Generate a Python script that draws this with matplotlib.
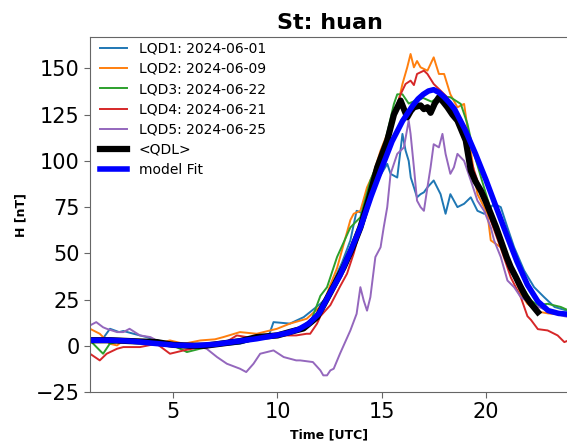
import matplotlib
matplotlib.use("Agg")
import matplotlib.pyplot as plt

# ---- data ----
t_lqd1 = [1.0, 1.5, 1.96, 2.4, 2.6, 3.06, 3.4, 3.72, 4.2, 5.0, 5.8, 6.5, 7.1, 8.2, 9.33, 9.6, 9.81,
          10.6, 11.26, 12.06, 12.54, 12.7, 13.1, 13.5, 13.8, 14.14, 14.5, 14.79, 15.27, 15.43, 15.75,
          16.0, 16.15, 16.3, 16.4, 16.55, 16.7, 16.87, 17.03, 17.2, 17.5, 17.83, 18.07, 18.3, 18.64,
          18.96, 19.28, 19.6, 19.92, 20.4, 20.72, 21.04, 21.36, 21.84, 22.32, 22.8, 23.3, 23.9, 24.0]
h_lqd1 = [3, 2, 9.2, 7.4, 8, 6.6, 5.6, 4.7, 2.9, 1.5, 0.5, 0, 0.2, 1.1, 4.7, 6, 12.8,
          12, 15.5, 22.7, 28, 35.3, 45, 57, 73, 71.4, 80, 89.4, 98.4, 93, 91,
          114.6, 105.6, 100, 91, 85.7, 80.3, 82, 83, 85.7, 89.4, 82, 71.4, 82, 75,
          76.8, 80.3, 73, 71.4, 76.8, 75, 64, 53.3, 40.7, 31.7, 26.3, 21, 19, 18.5]

t_lqd2 = [1.0, 1.47, 1.95, 2.3, 2.6, 3.2, 3.8, 4.2, 4.84, 5.5, 6.3, 7.0, 7.4, 8.2, 9.0, 9.98, 10.6,
          11.4, 12.2, 12.54, 12.86, 13.18, 13.5, 13.66, 13.98, 14.3, 14.6, 14.95, 15.27, 15.75, 16.0,
          16.23, 16.39, 16.55, 16.7, 16.87, 17.2, 17.5, 17.75, 18.0, 18.3, 18.64, 18.96, 19.12, 19.44,
          19.6, 20.08, 20.24, 20.72, 21.2, 21.68, 22.0, 22.5, 23.0, 23.5, 24.0]
h_lqd2 = [9.2, 6.5, 1.1, 0.2, 2.9, 2.0, 2.5, 1.1, 2.9, 1.1, 2.9, 3.5, 4.7, 7.4, 6.5, 9.2, 12,
          14.6, 22.7, 33, 42, 55, 68, 71.4, 73, 85.7, 93, 105.6, 114.6, 129, 141.6,
          150.6, 157.8, 150.6, 154, 150.6, 148.8, 156, 147, 147, 136, 129, 130.8, 118, 93,
          82, 71.4, 57, 53.3, 42.5, 28.1, 22.7, 18.5, 17.5, 17, 16.5]

t_lqd3 = [1.0, 1.47, 1.63, 1.95, 2.6, 3.5, 4.2, 5.0, 5.5, 5.65, 6.28, 7.0, 8.0, 9.0, 10.0, 11.0, 11.6,
          12.06, 12.38, 12.86, 13.5, 13.98, 14.46, 15.1, 15.59, 15.75, 16.0, 16.3, 16.7, 17.0, 17.4,
          17.8, 18.3, 18.8, 19.12, 19.44, 19.8, 20.2, 20.5, 20.9, 21.3, 21.68, 22.17, 22.5, 22.97,
          23.6, 24.0]
h_lqd3 = [2.9, -2.5, -4.3, 1.1, 2.9, 2, 1.5, 0, -2.5, -3.4, -1.6, 0, 1.5, 3.5, 5.5, 8, 13,
          27, 31.7, 48, 64, 69.5, 89.4, 107, 130.8, 136, 136, 131, 133, 134, 132,
          135, 134.4, 130.8, 120, 103.8, 90, 75, 64, 49.8, 41, 33.5, 24.5, 22, 22.7,
          21, 19]

t_lqd4 = [1.0, 1.47, 1.8, 2.3, 2.6, 3.4, 4.2, 4.84, 5.5, 6.3, 7.4, 8.05, 9.0, 9.98, 10.9, 11.4, 11.57,
          11.9, 12.06, 12.54, 13.0, 13.34, 13.66, 14.3, 14.95, 15.59, 15.91, 16.15, 16.39, 16.55,
          16.7, 17.03, 17.2, 17.5, 17.83, 18.15, 18.47, 18.8, 19.12, 19.44, 19.76, 20.24, 20.72,
          21.2, 21.68, 22.0, 22.17, 22.5, 22.97, 23.45, 23.77, 24.0]
h_lqd4 = [-4.3, -7.9, -4.3, -1.6, -0.7, -0.7, 1.1, -4.3, -2.5, -0.7, 1.1, 5.6, 3.8, 5.6, 5.6, 6.5, 6.5,
          12, 16, 22, 32, 39, 50, 76, 100, 125, 136, 141.6, 143.4, 141,
          147, 148.8, 147, 141.6, 138, 134.4, 127.2, 118, 107.3, 94.8, 84, 67.7, 52.8,
          37, 26.3, 16, 14, 9, 8.3, 5.6, 2, 3]

t_lqd5 = [1.0, 1.3, 1.63, 1.8, 2.3, 2.6, 2.9, 3.4, 3.9, 4.2, 5.0, 5.8, 6.6, 7.1, 7.57, 8.2, 8.5, 8.85,
          9.17, 9.81, 10.3, 10.9, 11.09, 11.7, 12.06, 12.2, 12.38, 12.54, 12.7, 13.0, 13.5, 13.8,
          13.98, 14.14, 14.3, 14.46, 14.7, 14.95, 15.1, 15.27, 15.43, 15.75, 16.07, 16.3, 16.39,
          16.55, 16.7, 16.87, 17.03, 17.2, 17.35, 17.5, 17.75, 17.92, 18.07, 18.3, 18.47, 18.64,
          18.96, 19.28, 19.6, 19.92, 20.24, 20.4, 20.72, 21.04, 21.36, 21.68, 22.17, 22.97, 23.77, 24.0]
h_lqd5 = [11, 12.8, 10, 9.2, 7.4, 7.4, 9.2, 5.6, 4.7, 2.9, 1.1, 1.1, -1.6, -6.1, -9.7, -12.4, -14.2, -9.7,
          -4.3, -2.5, -6.1, -7.9, -7.9, -8.8, -13.3, -16, -16, -13.3, -12.4, -4.3, 8.3, 17.3,
          31.7, 24.5, 19, 26.3, 48, 53.3, 64, 75, 93, 103.8, 107.3, 121.8, 114.6,
          96.5, 78.5, 75, 73, 85.7, 96.5, 109, 107.3, 114.6, 103.8, 93, 96.5, 103.8,
          100, 89.4, 78.5, 73, 64, 57, 48, 35.3, 31.7, 26.3, 22.7, 19, 16, 15.5]

t_qdl = [1.0, 2.0, 3.0, 4.2, 5.0, 5.8, 6.5, 7.4, 8.2, 9.0, 10.0, 10.6, 11.25, 11.9, 12.5, 13.18, 13.6,
         13.98, 14.4, 14.79, 15.27, 15.59, 15.91, 16.07, 16.23, 16.4, 16.55, 16.87, 17.03, 17.2,
         17.35, 17.55, 17.75, 17.95, 18.16, 18.4, 18.64, 19.04, 19.28, 19.5, 19.76, 20.0, 20.24,
         20.5, 20.72, 21.0, 21.2, 21.45, 21.68, 21.9, 22.17, 22.5]
h_qdl = [3, 3, 2.5, 2, 0.5, 0, 0, 1.3, 2.5, 4.7, 5.6, 7.5, 9.4, 15.5, 28, 42.5, 53,
         64, 80, 96.5, 111, 125, 132.6, 128, 123.6, 127, 129, 130, 128, 129,
         126, 131, 134.4, 132, 129, 125, 121.8, 111, 94.8, 89, 84, 78, 71.4,
         64, 57, 48, 42.5, 37, 31.7, 27, 22.7, 18.2]

t_fit = [1, 2, 3, 4, 5, 6, 7, 8, 9, 10, 10.5, 11, 11.5, 12, 12.5, 13, 13.5, 14, 14.5, 15, 15.5, 16,
         16.5, 16.75, 17, 17.25, 17.5, 17.75, 18, 18.25, 18.5, 19, 19.5, 20, 20.5, 21, 21.5, 22,
         22.5, 23, 23.5, 24]
h_fit = [3.0, 3.0, 2.5, 1.4, 0.4, 0.1, 0.8, 2.3, 3.8, 5.8, 7.0, 8.8, 12, 17.5, 28, 38, 51, 64.5,
         81, 96, 110.5, 121.5, 130, 133.5, 136, 137.8, 138.5, 137, 134.5, 131.5, 128, 117, 104, 90,
         75, 60, 45.5, 33, 24, 19, 17.5, 17]

labels = ["LQD1: 2024-06-01", "LQD2: 2024-06-09", "LQD3: 2024-06-22",
          "LQD4: 2024-06-21", "LQD5: 2024-06-25", "<QDL>", "model Fit"]
colors = ["#1f77b4", "#ff7f0e", "#2ca02c", "#d62728", "#9467bd"]

fig = plt.figure(figsize=(5.67, 4.42), dpi=100)
ax = fig.add_axes([0.1587, 0.1131, 0.845, 0.8032])

series = [(t_lqd1, h_lqd1), (t_lqd2, h_lqd2), (t_lqd3, h_lqd3), (t_lqd4, h_lqd4), (t_lqd5, h_lqd5)]
for (t, h), c, lab in zip(series, colors, labels[:5]):
    ax.plot(t, h, color=c, lw=1.4, label=lab)
ax.plot(t_qdl, h_qdl, color="black", lw=4.5, label=labels[5])
ax.plot(t_fit, h_fit, color="blue", lw=4.0, label=labels[6])

ax.set_xlim(1, 24)
ax.set_ylim(-25, 167)
ax.set_xticks([5, 10, 15, 20])
ax.set_yticks([-25, 0, 25, 50, 75, 100, 125, 150])
ax.tick_params(labelsize=15, color="0.4", length=4)
for s in ax.spines.values():
    s.set_color("0.4")

ax.set_title("St: huan", fontsize=16, fontweight="bold")
ax.set_xlabel("Time [UTC]", fontsize=9, fontweight="bold", labelpad=4)
ax.set_ylabel("H [nT]", fontsize=9, fontweight="bold", labelpad=6)
ax.legend(loc="upper left", bbox_to_anchor=(0.0, 1.014), fontsize=10, frameon=False,
          handlelength=2.0, borderaxespad=0.3, labelspacing=0.45)

fig.savefig("out.png", dpi=100)
